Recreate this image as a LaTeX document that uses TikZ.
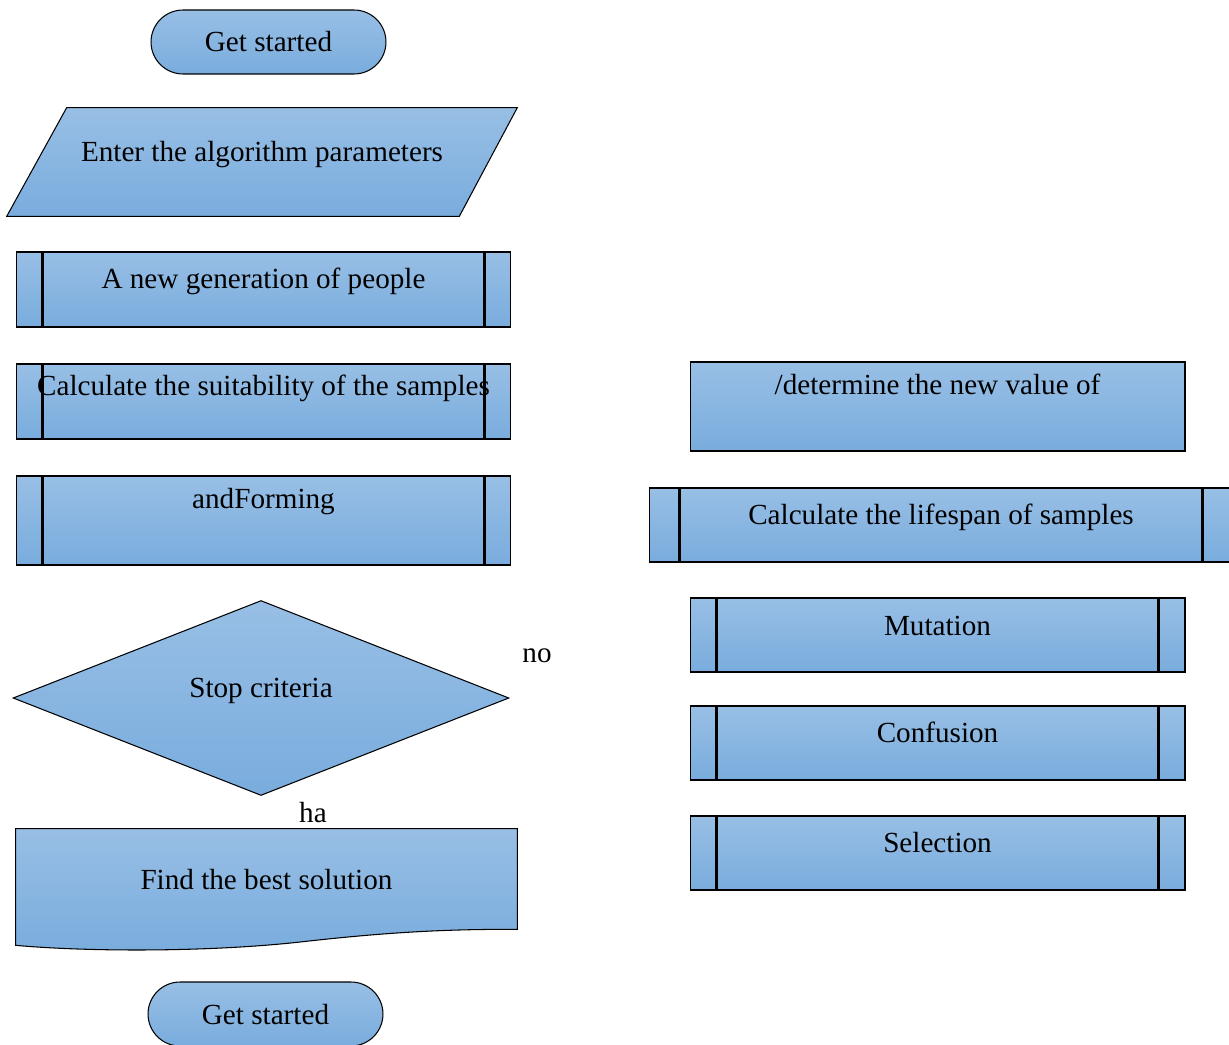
\documentclass[tikz,border=0pt]{standalone}
\usepackage{fontspec}
\setmainfont{Liberation Serif}
\usepackage{xcolor}
\usepackage{tikz}
\usetikzlibrary{shapes.geometric, shapes.misc, backgrounds}

\definecolor{boxtop}{RGB}{152,191,229}
\definecolor{boxbot}{RGB}{121,172,221}

\begin{document}
\begin{tikzpicture}[
    x=0.02cm, y=-0.02cm,
    font=\fontsize{16.6}{20}\selectfont,
    shade/.style={top color=boxtop, bottom color=boxbot, draw=black, line width=0.6pt},
    block/.style={shade, rectangle, inner sep=0pt, align=center, text height=0.6cm},
    blank/.style={rectangle, inner sep=0pt, align=center, text height=0.6cm},
    termblock/.style={block, rounded rectangle, minimum width=4.7cm, minimum height=1.28cm},
    procblock/.style={block, minimum width=9.9cm, minimum height=1.5cm,
        path picture={
          \draw[line width=1.7pt] ([xshift=#1]path picture bounding box.south west) -- ([xshift=#1]path picture bounding box.north west);
          \draw[line width=1.7pt] ([xshift=-#1]path picture bounding box.south east) -- ([xshift=-#1]path picture bounding box.north east);
        }},
    procblock/.default=0.52cm,
    decblock/.style={block, diamond, aspect=2.5, minimum width=9.92cm, minimum height=3.9cm},
    lbl/.style={inner sep=0pt},
]
\useasboundingbox (0,0) rectangle (1229,1044);

% ---- Left column ----
\node[termblock, text depth=0.2cm] (start) at (268.5,42) {Get started};
\node[blank, minimum width=10.2cm, minimum height=2.16cm, text depth=0.6cm] (params) at (262,162) {Enter the algorithm parameters};
\node[procblock, text depth=0.66cm] (gen) at (263.5,289.5) {A new generation of people};
\node[procblock, text depth=0.86cm] (fit) at (263.5,401.5) {Calculate the suitability of the samples};
\node[procblock, minimum height=1.78cm, text depth=1.1cm] (form) at (263.5,520.5) {andForming};
\node[decblock, text depth=0.64cm] (stop) at (261,698) {Stop criteria};
\node[lbl] (no) at (537,656) {no};
\node[lbl] (ha) at (313,813) {ha};
\node[blank, minimum width=10.02cm, minimum height=2.32cm, text depth=0.52cm] (best) at (266.5,887) {Find the best solution};
\node[termblock, text depth=0.2cm] (finish) at (265.5,1014) {Get started};

% Input and document outlines
\begin{scope}[on background layer]
  \path[shade] (params.south west) -- ([xshift=1.2cm]params.north west) -- (params.north east)
        -- ([xshift=-1.16cm]params.south east) -- cycle;
  \path[shade] (best.north west) -- (best.north east) -- ([yshift=0.32cm]best.south east)
        .. controls (440,929) and (380,933) .. (300,942)
        .. controls (210,952) and (90,952) .. (best.south west) -- cycle;
\end{scope}

% ---- Right column ----
\node[block, minimum width=9.9cm, minimum height=1.78cm, text depth=1.1cm] (newval) at (937.5,406.5) {/determine the new value of};
\node[procblock=0.6cm, minimum width=11.68cm, minimum height=1.48cm, text depth=0.64cm] (life) at (941,525) {Calculate the lifespan of samples};
\node[procblock, minimum height=1.48cm, text depth=0.6cm] (mut) at (937.5,635) {Mutation};
\node[procblock, minimum height=1.48cm, text depth=0.64cm] (conf) at (937.5,743) {Confusion};
\node[procblock, minimum height=1.48cm, text depth=0.64cm] (sel) at (937.5,853) {Selection};

\end{tikzpicture}
\end{document}
